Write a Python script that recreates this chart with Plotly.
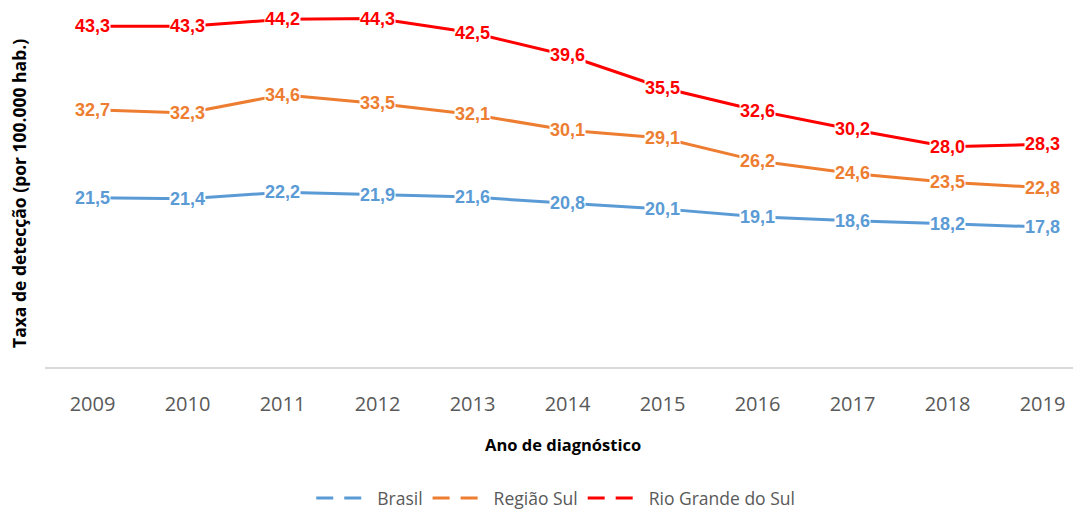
import plotly.graph_objects as go

years = ["2009", "2010", "2011", "2012", "2013", "2014", "2015", "2016", "2017", "2018", "2019"]
brasil = [21.5, 21.4, 22.2, 21.9, 21.6, 20.8, 20.1, 19.1, 18.6, 18.2, 17.8]
regiao_sul = [32.7, 32.3, 34.6, 33.5, 32.1, 30.1, 29.1, 26.2, 24.6, 23.5, 22.8]
rio_grande = [43.3, 43.3, 44.2, 44.3, 42.5, 39.6, 35.5, 32.6, 30.2, 28.0, 28.3]

series = [
    ("Brasil", brasil, "#5B9BD5"),
    ("Região Sul", regiao_sul, "#ED7D31"),
    ("Rio Grande do Sul", rio_grande, "#FF0000"),
]

fig = go.Figure()
annotations = []
for name, vals, color in series:
    fig.add_trace(go.Scatter(x=years, y=vals, mode="lines", name=name,
                             line=dict(color=color, width=3), showlegend=False))
    # legend entry (dashed symbol like the original)
    fig.add_trace(go.Scatter(x=[None], y=[None], mode="lines", name=name,
                             line=dict(color=color, width=3, dash="17px,11px"),
                             showlegend=True))
    for i, v in enumerate(vals):
        annotations.append(dict(
            x=i, y=v, xref="x", yref="y", text="<b>" + f"{v:.1f}".replace(".", ",") + "</b>",
            showarrow=False, bgcolor="white", borderpad=0,
            font=dict(family="Liberation Sans", size=18, color=color),
            xanchor="center", yanchor="middle"))

annotations.append(dict(
    text="<b>Taxa de detecção (por 100.000 hab.)</b>", xref="paper", yref="paper",
    x=-0.025, y=0.489, textangle=-90, showarrow=False, xanchor="center", yanchor="middle",
    font=dict(family="Open Sans", size=17.5, color="black")))
annotations.append(dict(
    text="<b>Ano de diagnóstico</b>", xref="paper", yref="paper",
    x=0.5, y=-0.22, showarrow=False, xanchor="center", yanchor="middle",
    font=dict(family="Open Sans", size=16.5, color="black")))

fig.update_layout(
    width=1081, height=510,
    margin=dict(l=37, r=8, t=5, b=151),
    plot_bgcolor="white", paper_bgcolor="white",
    annotations=annotations,
    legend=dict(orientation="h", x=0.493, xanchor="center",
                yref="container", y=0.039, yanchor="middle",
                font=dict(family="Open Sans", size=17.5, color="#595959"),
                itemwidth=56, tracegroupgap=0),
    xaxis=dict(type="category", range=[-0.5, 10.405], showline=True, linecolor="#D9D9D9",
               linewidth=1.5, showgrid=False, ticks="", ticklabelstandoff=18,
               tickfont=dict(family="Open Sans", size=20, color="#595959"), zeroline=False),
    yaxis=dict(range=[0, 45], showgrid=False, showticklabels=False, zeroline=False,
               showline=False, ticks=""),
)

fig.write_html("out.html")
